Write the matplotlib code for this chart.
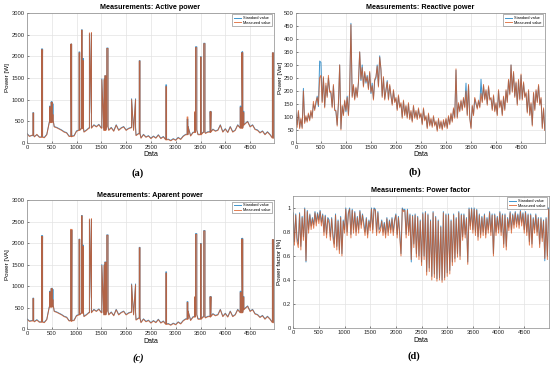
import numpy as np
import matplotlib
matplotlib.use("Agg")
import matplotlib.pyplot as plt

plt.rcParams['font.family'] = ['Liberation Sans', 'DejaVu Sans']

# ---------------- data ----------------
x_base = list(range(0, 5000, 50))   # sample index of the coarse readings (active / apparent)
x_fine = list(range(0, 5000, 25))   # sample index of the finer readings (reactive / power factor)

active_std = [220,160,170,150,190,140,170,130,200,480,520,380,360,330,300,260,240,160,150,170,
              280,300,340,260,300,350,680,420,380,430,350,300,380,300,360,280,420,300,350,380,
              300,340,360,300,180,220,120,200,140,170,110,160,120,190,110,150,80,90,60,100,
              70,130,90,160,200,380,170,250,300,200,200,250,230,260,250,320,280,300,420,260,
              330,250,380,260,300,420,350,420,450,500,380,420,320,300,240,280,200,260,200,120]
active_meas = [210,150,180,140,200,130,160,120,190,470,510,370,350,320,290,250,230,150,140,160,
               270,290,330,250,290,340,700,410,370,420,340,290,370,290,350,270,410,290,340,370,
               290,330,350,290,170,210,110,190,130,160,100,150,110,180,100,140,70,80,50,90,
               60,120,80,150,190,370,160,240,290,190,190,240,220,250,240,310,270,290,410,250,
               320,240,370,250,290,410,340,410,440,490,370,410,310,290,230,270,190,250,190,110]
active_sp_start = [120,295,455,490,515,885,1050,1100,1125,1260,1510,1570,1610,2110,2265,2800,3230,3380,3400,3500,3565,3695,4300,4335,4360,4950]
active_sp_end   = [135,315,470,505,530,900,1065,1115,1140,1300,1560,1590,1635,2190,2280,2815,3245,3395,3425,3515,3590,3710,4315,4350,4375,4970]
active_sp_std   = [700,2170,850,950,900,2280,2100,2610,1950,2520,1480,1550,2190,1020,1900,1340,550,700,2220,1990,2300,730,850,2100,730,2080]
active_sp_meas  = [690,2150,830,940,650,2280,2080,2600,1900,2540,1460,1550,2180,1000,1890,1300,600,720,2200,1980,2290,720,820,2080,700,2080]

apparent_std = [240,190,200,180,220,170,200,160,230,520,560,420,400,370,340,300,280,200,190,210,
                320,340,380,300,340,390,720,460,420,470,390,340,420,340,400,320,460,340,390,420,
                340,380,400,340,220,260,160,240,180,210,150,200,160,230,150,190,120,130,100,140,
                110,170,130,200,240,420,210,290,340,240,240,290,270,300,290,360,320,340,460,300,
                370,290,420,300,340,460,390,460,490,540,420,460,360,340,280,320,240,300,240,160]
apparent_meas = [230,180,190,170,210,160,190,150,220,510,550,410,390,360,330,290,270,190,180,200,
                 310,330,370,290,330,380,740,450,410,460,380,330,410,330,390,310,450,330,380,410,
                 330,370,390,330,210,250,150,230,170,200,140,190,150,220,140,180,110,120,90,130,
                 100,160,120,190,230,410,200,280,330,230,230,280,260,290,280,350,310,330,450,290,
                 360,280,410,290,330,450,380,450,480,530,410,450,350,330,270,310,230,290,230,150]
apparent_sp_start = [120,295,455,490,515,880,1050,1100,1125,1260,1510,1570,1610,2110,2265,2800,3230,3380,3400,3500,3565,3695,4300,4335,4360,4950]
apparent_sp_end   = [135,315,470,505,530,905,1065,1115,1140,1300,1560,1590,1635,2190,2280,2815,3245,3395,3425,3515,3590,3710,4315,4350,4375,4970]
apparent_sp_std   = [720,2170,880,950,920,2300,2090,2640,1950,2540,1500,1560,2190,1050,1900,1330,640,740,2220,1990,2290,760,880,2110,760,2080]
apparent_sp_meas  = [710,2150,860,940,680,2320,2080,2630,1920,2560,1480,1550,2180,1030,1890,1300,620,750,2200,1980,2280,750,850,2090,740,2080]

reactive_std = [110,70,120,60, 90,60,210,80, 100,85,110,90, 120,100,150,130, 150,180,140,315,
                310,160,250,140, 220,180,250,200, 190,140,220,130, 120,70,150,300, 55,140,110,160,
                120,180,110,200, 460,180,220,170, 210,180,230,350, 240,300,220,270, 230,260,210,270,
                190,230,170,240, 250,300,220,335, 280,180,250,170, 200,240,170,220, 180,150,200,160,
                170,130,180,140, 150,100,160,110, 140,100,150,95, 120,85,140,100, 120,95,130,100,
                110,75,130,90, 100,60,110,70, 90,65,100,70, 80,50,90,60, 80,55,85,65,
                90,60,100,75, 110,85,130,100, 280,100,150,125, 160,130,170,140, 230,110,220,100,
                60,140,110,170, 150,135,160,140, 245,160,220,170, 200,150,215,170, 170,130,180,125,
                150,110,200,140, 160,110,175,130, 200,160,240,190, 300,200,270,180, 230,150,240,170,
                260,170,230,180, 190,120,200,110, 150,70,190,130, 200,160,220,150, 170,60,130,50]
reactive_meas = [115,60,125,55, 95,55,200,75, 105,80,115,85, 125,95,160,125, 160,175,145,250,
                 260,155,255,135, 230,175,260,195, 200,135,225,125, 125,65,155,300, 50,145,105,165,
                 125,175,105,205, 455,175,225,165, 215,175,235,350, 245,290,215,275, 235,255,205,275,
                 195,220,165,245, 255,295,215,330, 285,175,255,165, 205,235,165,225, 185,145,205,155,
                 175,125,185,135, 155,95,165,105, 145,95,155,90, 125,80,145,95, 125,90,135,95,
                 115,70,135,85, 105,55,115,65, 95,60,105,65, 85,45,95,55, 85,50,90,60,
                 95,55,105,70, 115,80,135,95, 285,95,155,120, 165,125,175,135, 200,105,225,95,
                 55,145,105,175, 155,130,165,135, 190,155,225,165, 205,145,220,165, 175,125,185,120,
                 155,105,205,135, 165,105,180,125, 205,155,245,185, 300,195,275,175, 235,145,245,165,
                 265,165,235,175, 195,115,205,105, 155,65,195,125, 205,155,225,145, 175,55,135,48]

pf_std = [.96,.72,.95,.75, .70,.96,.68,.93, .76,1.0,.55,.98, .82,.95,.85,.92, .86,.97,.88,.96,
          .90,.98,.88,.95, .80,.94,.78,.92, .90,.76,.92,.78, .70,.95,.68,.90, .65,.93,.62,.90,
          .82,1.0,.80,.96, 1.0,.78,.99,.82, .97,.80,.93,.82, .98,.86,.95,.88, .80,.92,.78,.90,
          .84,1.0,.82,1.0, .99,.80,.97,.82, .84,.90,.80,.88, .78,.92,.80,.90, .82,.92,.80,.90,
          .95,.78,.93,.80, .62,1.0,.98,.99, .78,.99,.80,.95, .55,.94,.70,.95, .62,.93,.60,.90,
          .55,.96,.60,.97, .47,.95,.50,.90, .43,.97,.45,.93, .41,.90,.42,.85, .40,.97,.42,.95,
          .46,.95,.48,.90, .55,.95,.58,.92, .62,.97,.60,.95, .76,.95,.78,.92, .55,1.0,.85,1.0,
          .82,1.0,.80,.99, .76,.95,.78,.93, .80,.95,.78,.92, .82,.97,.80,.95, .62,.95,.80,.93,
          .82,.97,.80,.95, .70,.95,.68,.92, .84,.97,.82,.95, .86,.97,.87,.95, .86,.98,.88,.96,
          .82,.97,.80,.95, .72,.95,.70,.92, .82,.95,.80,.92, .70,.92,.75,.90, .56,.92,.60,1.0]
pf_meas = [.95,.69,.94,.72, .67,.95,.65,.92, .73,.99,.56,.97, .79,.94,.82,.91, .83,.96,.85,.95,
           .87,.97,.85,.94, .77,.93,.75,.91, .87,.73,.91,.75, .67,.94,.65,.89, .62,.92,.60,.89,
           .79,.99,.77,.95, .99,.75,.98,.79, .96,.77,.92,.79, .97,.83,.94,.85, .77,.91,.75,.89,
           .81,.99,.79,.99, .98,.77,.96,.79, .81,.89,.77,.87, .75,.91,.77,.89, .79,.91,.77,.89,
           .94,.75,.92,.77, .60,.99,.97,.98, .75,.98,.77,.94, .57,.93,.67,.94, .59,.92,.57,.89,
           .52,.95,.57,.96, .44,.94,.47,.89, .40,.96,.42,.92, .39,.89,.40,.84, .38,.96,.40,.94,
           .43,.94,.45,.89, .52,.94,.55,.91, .59,.96,.57,.94, .73,.94,.75,.91, .53,.99,.82,.99,
           .79,.99,.77,.98, .73,.94,.75,.92, .77,.94,.75,.91, .79,.96,.77,.94, .60,.94,.77,.92,
           .79,.96,.77,.94, .67,.94,.65,.91, .81,.96,.79,.94, .83,.96,.84,.94, .83,.97,.85,.95,
           .79,.96,.77,.94, .69,.94,.67,.91, .79,.94,.77,.91, .67,.91,.72,.89, .58,.91,.57,.99]

c_std = '#0072BD'
c_meas = '#D95319'


def build(xb, yb, s0=(), s1=(), sh=()):
    pts = [(x, 0, y) for x, y in zip(xb, yb)]
    xb_arr = np.asarray(xb)
    for s, e, h in zip(s0, s1, sh):
        i = max(int(np.searchsorted(xb_arr, s, side='right')) - 1, 0)
        b = yb[i]
        pts += [(s, 1, b), (s, 2, h), (e, 3, h), (e, 4, b)]
    pts.sort(key=lambda p: (p[0], p[1]))
    return [p[0] for p in pts], [p[2] for p in pts]


fig = plt.figure(figsize=(5.5, 3.69), dpi=100)

axes_pos = {
    'a': [0.049, 0.6125, 0.449, 0.3525],
    'b': [0.538, 0.6125, 0.453, 0.3525],
    'c': [0.049, 0.108, 0.449, 0.350],
    'd': [0.533, 0.111, 0.465, 0.358],
}

panels = [
    ('a', 'Measurements: Active power', 'Power [W]',
     build(x_base, active_std, active_sp_start, active_sp_end, active_sp_std),
     build(x_base, active_meas, active_sp_start, active_sp_end, active_sp_meas),
     (0, 3000), np.arange(0, 3001, 500)),
    ('b', 'Measurements: Reactive power', 'Power [Var]',
     build(x_fine, reactive_std), build(x_fine, reactive_meas),
     (0, 500), np.arange(0, 501, 50)),
    ('c', 'Measurements: Aparent power', 'Power [VA]',
     build(x_base, apparent_std, apparent_sp_start, apparent_sp_end, apparent_sp_std),
     build(x_base, apparent_meas, apparent_sp_start, apparent_sp_end, apparent_sp_meas),
     (0, 3000), np.arange(0, 3001, 500)),
    ('d', 'Measurements: Power factor', 'Power factor [%]',
     build(x_fine, pf_std), build(x_fine, pf_meas),
     (0, 1.1), np.arange(0, 1.01, 0.2)),
]

labels_pos = {'a': (0.251, 0.531), 'b': (0.755, 0.534), 'c': (0.251, 0.030), 'd': (0.753, 0.035)}

for key, title, ylab, (xs, ys), (xm, ym), ylim, yt in panels:
    ax = fig.add_axes(axes_pos[key])
    ax.plot(xs, ys, color=c_std, lw=0.7, alpha=0.75, label='Standard value')
    ax.plot(xm, ym, color=c_meas, lw=0.7, alpha=0.75, label='Measured value')
    ax.set_xlim(0, 4980)
    ax.set_ylim(*ylim)
    ax.set_xticks(np.arange(0, 4501, 500))
    ax.set_yticks(yt)
    if key == 'd':
        ax.set_yticklabels(['0', '0.2', '0.4', '0.6', '0.8', '1'])
    ax.grid(True, color='#e3e3e3', lw=0.5)
    ax.set_axisbelow(True)
    ax.tick_params(labelsize=4.2, length=1.5, width=0.4, direction='in', pad=1.5, colors='#262626')
    for sp in ax.spines.values():
        sp.set_color('#8a8a8a')
        sp.set_linewidth(0.5)
    ax.set_title(title, fontsize=5.2, fontweight='bold', pad=2.5)
    ax.set_xlabel('Data', fontsize=5, labelpad=1)
    ax.set_ylabel(ylab, fontsize=4.5, labelpad=1)
    leg = ax.legend(loc='upper right', fontsize=2.8, frameon=True, handlelength=2.0,
                    borderpad=0.4, labelspacing=0.2, handletextpad=0.5, fancybox=False,
                    borderaxespad=0.4)
    leg.get_frame().set_linewidth(0.4)
    leg.get_frame().set_edgecolor('#555555')
    lx, ly = labels_pos[key]
    fig.text(lx, ly, '(%s)' % key, fontsize=7.5, ha='center', va='center',
             family='Liberation Serif', fontweight='bold', style='italic' if key == 'c' else 'normal')

fig.savefig('out.png', dpi=100)
